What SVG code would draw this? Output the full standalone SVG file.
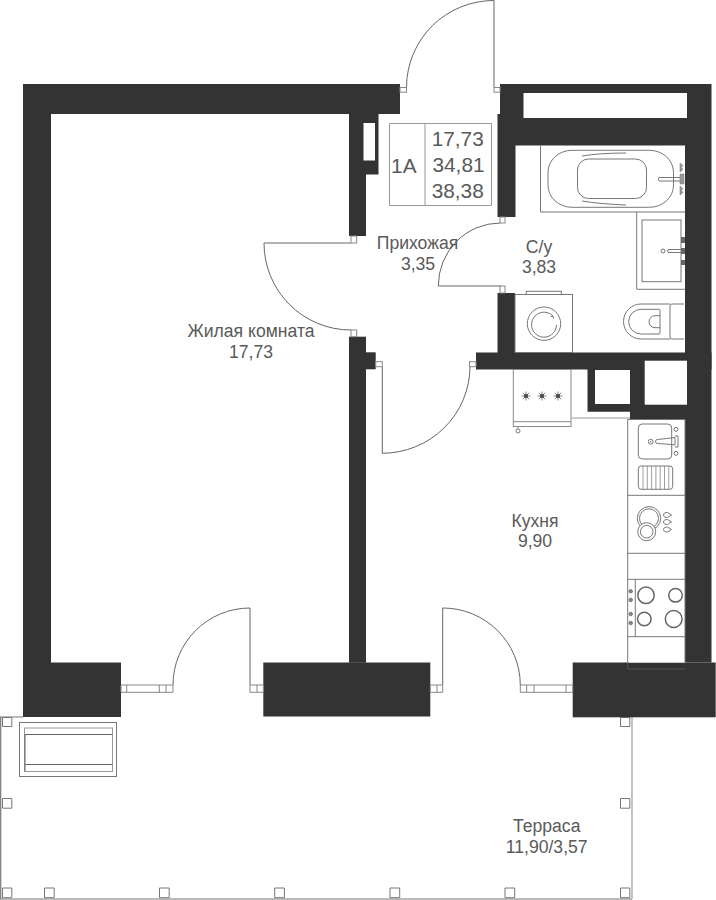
<svg xmlns="http://www.w3.org/2000/svg" width="716" height="900" viewBox="0 0 716 900">
<style>
.w{fill:#333;stroke:none}
.b{fill:#fff;stroke:none}
.l{fill:none;stroke:#777;stroke-width:1}
.f{fill:#fff;stroke:#888;stroke-width:1}
.d{fill:none;stroke:#666;stroke-width:1}
.p{fill:#fff;stroke:#777;stroke-width:1}
text{font-family:"Liberation Sans",Arial,sans-serif;fill:#5a5a5a;font-size:17.6px;text-anchor:middle}
.n{font-size:20.8px}
</style>
<rect width="716" height="900" fill="#fff"/>
<g id="terrace">
<path d="M0 717H23M0.7 717V899H632" fill="none" stroke="#777" stroke-width="1.2"/>
<path d="M632 717V899" fill="none" stroke="#aaa" stroke-width="1.4"/>
<path class="p" d="M2.500 717.500h9.300v9h-9.300zM2.500 798.500h9.300v9.700h-9.300zM2.500 888h9.300v9.700h-9.300zM44.500 888h9.700v9.700h-9.700zM159.500 888h9.700v9.700h-9.700zM274.700 888h9.700v9.700h-9.700zM390 888h9.700v9.700h-9.700zM505 888h9.700v9.700h-9.700zM620.500 888h9.300v9.700h-9.300zM620.500 798.500h9.300v9.700h-9.300zM620.500 717.500h9.300v9h-9.300z"/>
<rect class="l" x="19.500" y="722.500" width="97" height="54"/>
<rect x="24.500" y="728" width="88" height="43.500" fill="none" stroke="#999"/>
<path d="M25 771V734.500H112.500M25 764.500H112.500" fill="none" stroke="#666"/>
</g>
<g id="walls">
<rect class="w" x="23" y="84" width="377" height="30"/>
<rect class="w" x="23" y="84" width="28" height="633"/>
<rect class="w" x="23" y="662.500" width="98" height="54.500"/>
<path class="w" d="M349 114H378.500V174.500H366V236H349Z"/>
<rect class="b" x="363.500" y="123" width="11.500" height="37.500"/>
<path class="w" d="M500 84H711.500V662.500H685V145.500H515.500V217H497.500V114H500Z"/>
<rect class="b" x="523.500" y="93" width="163.500" height="25"/>
<rect class="w" x="497.500" y="293" width="17.500" height="60"/>
<rect class="w" x="476" y="352.500" width="235.500" height="17"/>
<path class="w" d="M587.500 369H685V419H630V411.700H587.500Z"/>
<rect class="b" x="595" y="370" width="35" height="34"/>
<rect class="b" x="644.700" y="360.700" width="42.300" height="44"/>
<rect class="w" x="349" y="336.700" width="17" height="326"/>
<rect class="w" x="349" y="352.300" width="26.700" height="17"/>
<rect class="w" x="263.300" y="662.500" width="167" height="54"/>
<rect class="w" x="572.700" y="662.500" width="143" height="54.800"/>
</g>
<g id="doors">
<path class="d" d="M406.500 87A87.500 87 0 0 1 494 0.500V87"/>
<path class="d" d="M351 243H264A87 87 0 0 0 351 330"/>
<path class="d" d="M501 286H438.300A62 63 0 0 1 500 223"/>
<path class="d" d="M382.300 366.700V453.300A88 87 0 0 0 470 366.700"/>
<path class="d" d="M173 685A77 77 0 0 1 250 608V685"/>
<path class="d" d="M442.700 685V608A77.600 77 0 0 1 520.300 685"/>
</g>
<g id="frames">
<rect class="f" x="400" y="87.500" width="6.500" height="4.700"/>
<rect class="f" x="494" y="87.500" width="6" height="4.700"/>
<rect class="f" x="351" y="236" width="5.700" height="7"/>
<rect class="f" x="351" y="330" width="5.700" height="6.700"/>
<rect class="f" x="500" y="217" width="5" height="6"/>
<rect class="f" x="500" y="286" width="5" height="7"/>
<rect class="f" x="375.700" y="361.700" width="6.600" height="5"/>
<rect class="f" x="469.500" y="361.700" width="6.500" height="5"/>
<path class="f" d="M121 685h52v7.300h-52zM126.700 685v7.300M159.300 685v7.300M166 685v7.300"/>
<path class="f" d="M250 685h13.300v7.300h-13.300zM257 685v7.300"/>
<path class="f" d="M430.300 685h12.400v7.300h-12.400zM437 685v7.300"/>
<path class="f" d="M520.300 685h52.400v7.300h-52.400zM526.700 685v7.300M534 685v7.300M566 685v7.300"/>
</g>
<g id="info-box">
<path d="M389.500 123.500H491.500V205.500H389.500ZM425 123.500V205.500" fill="none" stroke="#999" stroke-width="1"/>
<text class="n" x="403.800" y="172.500">1А</text>
<text class="n" x="457.700" y="146">17,73</text>
<text class="n" x="458.500" y="172">34,81</text>
<text class="n" x="457.700" y="197.500">38,38</text>
</g>
<g id="bath">
<path class="l" d="M540.500 145.500V212H685"/>
<rect class="l" x="548" y="150.300" width="125.500" height="57" rx="24" ry="22"/>
<rect class="l" x="577.500" y="159" width="69" height="39.500" rx="11" ry="11"/>
<path class="l" d="M582 156Q600 153 626 153M582 201Q600 204 626 205"/>
<path class="l" d="M682 177.500H660a1.700 1.700 0 0 0 0 3.500H682"/>
<path d="M680 163l3 2.500-1.500 2 1.500 2-3 2.500ZM680 174h4v10h-4ZM680 186l3 2.500-1.500 2 1.500 2-3 2.500Z" fill="#999" stroke="#777" stroke-width=".5"/>
</g>
<g id="basin">
<path class="l" d="M636.700 212V289.300H685"/>
<rect class="l" x="642" y="220" width="39" height="61.700"/>
<circle class="l" cx="663" cy="251" r="2"/>
<path class="l" d="M683.500 249.500H669a1.500 1.500 0 0 0 0 3H683.500"/>
<path d="M681 237h4v6h-4ZM681 248h4v6h-4ZM681 260h4v5h-4Z" fill="#666"/>
</g>
<g id="toilet">
<path class="l" d="M684 304H672q-2 0-2 2V337q0 2 2 2H684M670 304H641a17.500 17.500 0 0 0 0 35H670"/>
<path class="l" d="M659 309.300H641a12.300 12.300 0 0 0 0 24.700H659q1 0 1-1V310.300q0-1-1-1ZM660 315.700H655a6 6 0 0 0 0 12H660"/>
</g>
<g id="washer">
<rect class="l" x="515" y="294.500" width="57.500" height="58"/>
<rect class="l" x="526.300" y="291.300" width="35" height="3.200"/>
<circle class="l" cx="544" cy="323.700" r="16.700"/>
<path class="l" d="M553 316A12.500 12.500 0 1 0 556.500 325M550.500 316.500L553 316L553.500 318.500"/>
</g>
<g id="stove">
<rect class="f" x="513.300" y="369.500" width="57.700" height="57"/>
<path class="f" d="M513.300 421.700H571M518 426.700V429"/>
<circle class="l" cx="518" cy="431" r="2"/>
<path d="M571 418H630" fill="none" stroke="#bbb" stroke-width="1.500"/>
<path d="M521.500 396h9M526 391.500v9M522.800 392.800l6.400 6.400M522.800 399.200l6.400-6.400M537.500 396h9M542 391.500v9M538.800 392.800l6.400 6.400M538.800 399.200l6.400-6.400M553.500 396h9M558 391.500v9M554.800 392.800l6.400 6.400M554.800 399.200l6.400-6.400" fill="none" stroke="#777" stroke-width=".9"/>
<path d="M524 394h4v4h-4ZM540 394h4v4h-4ZM556 394h4v4h-4Z" fill="#555"/>
</g>
<g id="kitchen">
<rect class="b" x="628.200" y="420" width="56.800" height="242.500"/>
<path d="M627.700 419.500H685V662.500M627.700 419.500V662.500M627.700 495.300H685M627.700 553.300H685M627.700 579.300H685M627.700 636.700H685" fill="none" stroke="#777" stroke-width="1"/>
<path d="M627.700 662.500V669H685" fill="none" stroke="#555" stroke-width="1"/>
<rect class="l" x="638.300" y="424" width="33.400" height="35" rx="4"/>
<circle class="l" cx="650.700" cy="441.700" r="2.400"/>
<circle cx="650.700" cy="441.700" r=".7" fill="#666"/>
<circle class="l" cx="676" cy="429.300" r="2"/>
<circle class="l" cx="676" cy="453.300" r="2"/>
<path class="l" d="M657.500 439.500Q667 438.500 675 437.500V445Q667 444 657.500 443.500a2 2 0 0 1 0-4ZM675 436H678V447H675"/>
<rect class="l" x="638.300" y="466" width="34.400" height="23.300" rx="3"/>
<path d="M643 466V489.300M647.300 466V489.300M651.600 466V489.300M655.900 466V489.300M660.200 466V489.300M664.500 466V489.300M668.800 466V489.300" fill="none" stroke="#888" stroke-width=".8"/>
<circle class="l" cx="649" cy="518.300" r="11.700"/>
<circle class="l" cx="649" cy="518.300" r="9.500"/>
<circle class="b" cx="646.700" cy="531.700" r="9.200"/>
<circle class="l" cx="646.700" cy="531.700" r="9"/>
<circle class="l" cx="646.700" cy="531.700" r="6.300"/>
<path class="l" d="M663.500 515c0-2 2-2.500 4-2.500l4 2.500l-4 2.500c-2 0-4-.5-4-2.500ZM663.500 522c0-2 2-2.500 4-2.500l4 2.500l-4 2.500c-2 0-4-.5-4-2.500ZM663.500 529.500c0-2 2-2.500 4-2.500l4 2.500l-4 2.500c-2 0-4-.5-4-2.500Z"/>
<path class="l" d="M635.300 579.300V636.700"/>
<g fill="none" stroke="#666" stroke-width="1.500">
<circle cx="646" cy="595.300" r="8.200"/>
<circle cx="675.500" cy="595.300" r="6.800"/>
<circle cx="644.300" cy="619" r="6.800"/>
<circle cx="673.700" cy="619" r="8.400"/>
</g>
<g fill="#888" stroke="#555" stroke-width=".6">
<circle cx="630.700" cy="591.300" r="1.800"/>
<circle cx="630.700" cy="600" r="1.800"/>
<circle cx="630.700" cy="614" r="1.800"/>
<circle cx="630.700" cy="623" r="1.800"/>
</g>
</g>
<g id="labels">
<text x="251" y="336.500">Жилая комната</text>
<text x="251" y="357.500">17,73</text>
<text x="417.500" y="248.500">Прихожая</text>
<text x="418" y="269.500">3,35</text>
<text x="539" y="252.500">С/у</text>
<text x="539" y="272.500">3,83</text>
<text x="535" y="526.500">Кухня</text>
<text x="535" y="546.500">9,90</text>
<text x="546.700" y="831.500">Терраса</text>
<text x="546.700" y="852.500">11,90/3,57</text>
</g>
</svg>
